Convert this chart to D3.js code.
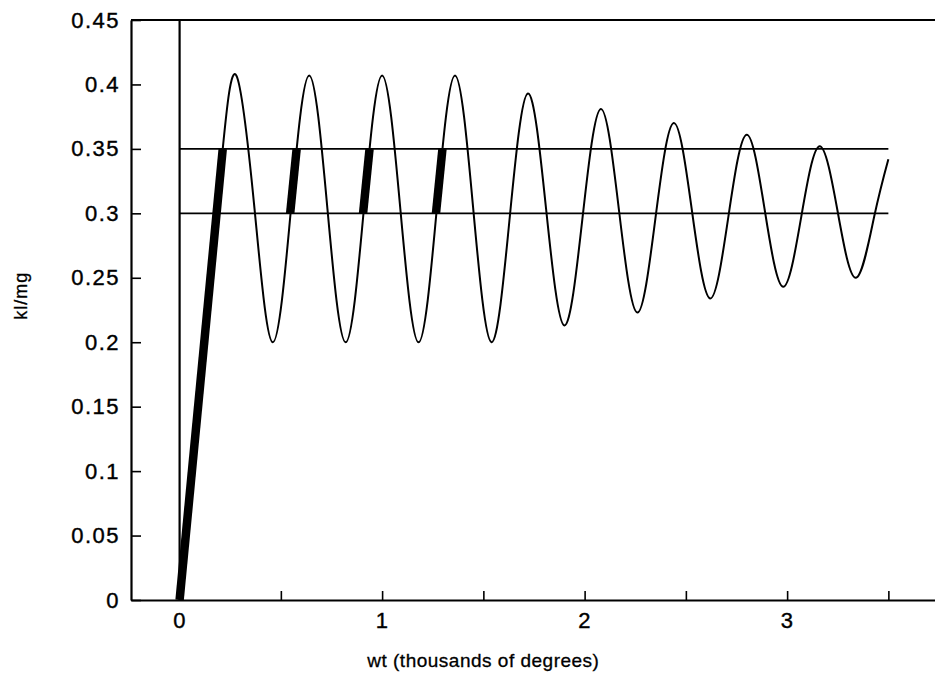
<!DOCTYPE html>
<html>
<head>
<meta charset="utf-8">
<script src="https://cdn.jsdelivr.net/npm/d3@7"></script>
<style>
  html, body { margin: 0; padding: 0; background: #ffffff; }
  #chart-div { width: 935px; height: 676px; }
</style>
</head>
<body>
<div id="chart-div"></div>
<script>
// Oscillation: peaks, troughs and the points half way between
const waveX = [0.213, 0.28, 0.37, 0.46, 0.55, 0.64, 0.73, 0.82, 0.91, 1.00, 1.09, 1.18, 1.27,
  1.36, 1.45, 1.54, 1.63, 1.72, 1.81, 1.90, 1.99, 2.08, 2.17, 2.26, 2.35, 2.44, 2.53,
  2.62, 2.71, 2.80, 2.89, 2.98, 3.07, 3.16, 3.25, 3.34, 3.43, 3.50];
const waveY = [0.350, 0.407, 0.3035, 0.200, 0.3035, 0.407, 0.3035, 0.200, 0.3035, 0.407, 0.3035, 0.200, 0.3035,
  0.407, 0.3035, 0.200, 0.2965, 0.393, 0.303, 0.213, 0.297, 0.381, 0.302, 0.223, 0.2965, 0.370, 0.302,
  0.234, 0.2975, 0.361, 0.302, 0.243, 0.2975, 0.352, 0.301, 0.250, 0.2975, 0.342];

// Thick segments (start ramp, then the rising passes through the 0.3-0.35 band)
const thickX0 = [0, 0.546, 0.906, 1.266];
const thickY0 = [0, 0.30, 0.30, 0.30];
const thickX1 = [0.213, 0.578, 0.938, 1.298];
const thickY1 = [0.35, 0.35, 0.35, 0.35];

// Horizontal reference levels and their extent
const bandLevels = [0.35, 0.30];
const bandStart = 0;
const bandEnd = 3.5;

// Ticks
const xTickValues = [0, 0.5, 1, 1.5, 2, 2.5, 3, 3.5];
const xTickLabels = ['0', '', '1', '', '2', '', '3', ''];
const yTickValues = [0, 0.05, 0.1, 0.15, 0.2, 0.25, 0.3, 0.35, 0.4, 0.45];
const yTickLabels = ['0', '0.05', '0.1', '0.15', '0.2', '0.25', '0.3', '0.35', '0.4', '0.45'];

const plotContainer = document.getElementById('chart-div');
const margin = { top: 20, right: -4, bottom: 76, left: 131 };
const width = plotContainer.offsetWidth - margin.left - margin.right;
const height = plotContainer.offsetHeight - margin.top - margin.bottom;
const fontFamily = '"Liberation Sans", Arial, sans-serif';

const svg = d3.select('#chart-div')
  .append('svg')
  .attr('width', plotContainer.offsetWidth)
  .attr('height', plotContainer.offsetHeight)
  .style('background-color', '#ffffff')
  .append('g')
  .attr('transform', `translate(${margin.left},${margin.top})`);

const xScale = d3.scaleLinear().domain([-0.24, 3.75]).range([0, width]);
const yScale = d3.scaleLinear().domain([0, 0.45]).range([height, 0]);

// x axis with inward ticks
const xAxisGroup = svg.append('g')
  .attr('transform', `translate(0,${height})`)
  .call(d3.axisBottom(xScale)
    .tickValues(xTickValues)
    .tickFormat((d, i) => xTickLabels[i])
    .tickSizeInner(-9)
    .tickSizeOuter(0)
    .tickPadding(12));

// y axis with inward ticks
const yAxisGroup = svg.append('g')
  .call(d3.axisLeft(yScale)
    .tickValues(yTickValues)
    .tickFormat((d, i) => yTickLabels[i])
    .tickSizeInner(-10)
    .tickSizeOuter(0)
    .tickPadding(11));

[xAxisGroup, yAxisGroup].forEach(g => {
  g.select('.domain').style('stroke', '#000').style('stroke-width', 2.2);
  g.selectAll('.tick line').style('stroke', '#000').style('stroke-width', 1.6);
  g.selectAll('text')
    .style('fill', '#000')
    .style('stroke', '#000')
    .style('stroke-width', 0.4)
    .style('font-family', fontFamily)
    .style('font-size', '22px')
    .style('letter-spacing', '1.5px');
});

// top frame line
svg.append('line')
  .attr('x1', 0).attr('x2', width)
  .attr('y1', yScale(0.45)).attr('y2', yScale(0.45))
  .attr('stroke', '#000').attr('stroke-width', 2.2);

// vertical line at wt = 0
svg.append('line')
  .attr('x1', xScale(0)).attr('x2', xScale(0))
  .attr('y1', yScale(0)).attr('y2', yScale(0.45))
  .attr('stroke', '#000').attr('stroke-width', 2.2);

// horizontal band lines
svg.selectAll('.band-line')
  .data(bandLevels)
  .join('line')
  .attr('class', 'band-line')
  .attr('x1', xScale(bandStart)).attr('x2', xScale(bandEnd))
  .attr('y1', d => yScale(d)).attr('y2', d => yScale(d))
  .attr('stroke', '#000').attr('stroke-width', 1.8);

// thin oscillating curve
const waveData = waveX.map((x, i) => ({ x: x, y: waveY[i] }));
svg.append('path')
  .datum(waveData)
  .attr('fill', 'none')
  .attr('stroke', '#000')
  .attr('stroke-width', 2)
  .attr('d', d3.line().x(d => xScale(d.x)).y(d => yScale(d.y)).curve(d3.curveNatural));

// thick segments
const thickData = thickX0.map((x0, i) => ({ x0: x0, y0: thickY0[i], x1: thickX1[i], y1: thickY1[i] }));
svg.selectAll('.thick-seg')
  .data(thickData)
  .join('line')
  .attr('class', 'thick-seg')
  .attr('x1', d => xScale(d.x0)).attr('y1', d => yScale(d.y0))
  .attr('x2', d => xScale(d.x1)).attr('y2', d => yScale(d.y1))
  .attr('stroke', '#000')
  .attr('stroke-width', 8.5);

// axis labels
svg.append('text')
  .attr('text-anchor', 'middle')
  .attr('x', xScale(1.5))
  .attr('y', height + 67)
  .style('fill', '#000')
  .style('stroke', '#000')
  .style('stroke-width', 0.3)
  .style('font-family', fontFamily)
  .style('font-size', '19px')
  .style('letter-spacing', '0.5px')
  .text('wt (thousands of degrees)');

svg.append('text')
  .attr('text-anchor', 'middle')
  .attr('transform', `translate(${-104},${yScale(0.236)}) rotate(-90)`)
  .style('fill', '#000')
  .style('stroke', '#000')
  .style('stroke-width', 0.3)
  .style('font-family', fontFamily)
  .style('font-size', '18px')
  .style('letter-spacing', '1px')
  .text('kl/mg');
</script>
</body>
</html>
